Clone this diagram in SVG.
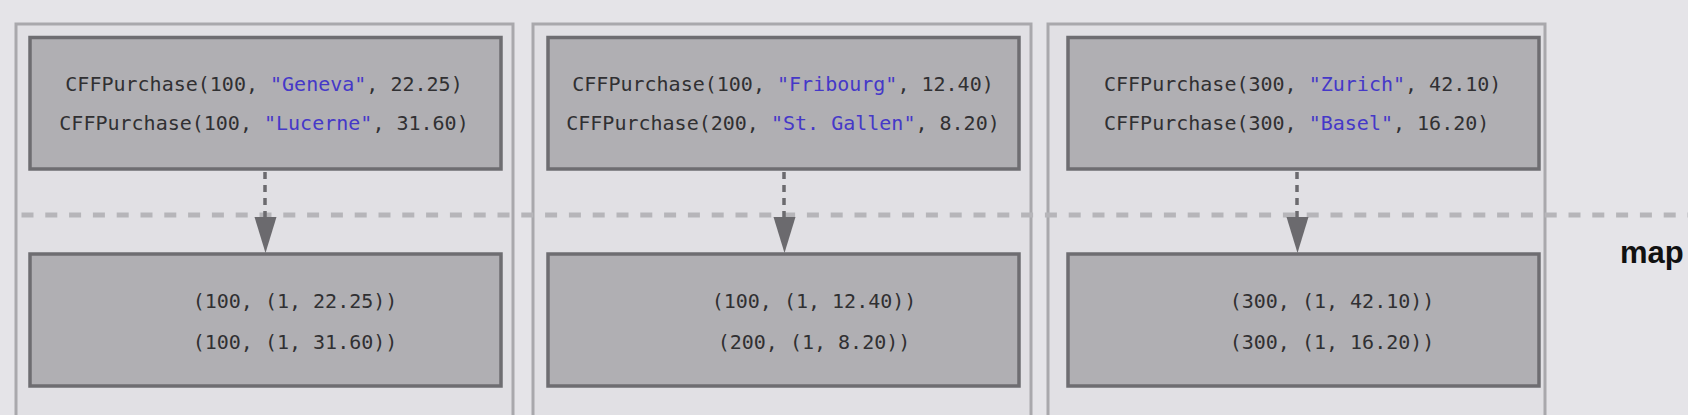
<svg xmlns="http://www.w3.org/2000/svg" width="1688" height="415" viewBox="0 0 1688 415">
  <defs>
    <style>
      .bg { fill: #e5e4e8; }
      .panel { fill: #e1e0e4; stroke: #a9a8ac; stroke-width: 3; }
      .box { fill: #b0afb3; stroke: #6e6d71; stroke-width: 3.5; }
      .code { font-family: "DejaVu Sans Mono", "Liberation Mono", monospace; font-size: 20px; fill: #303032; }
      .str { fill: #4538c8; }
      .mid { text-anchor: middle; }
      .sep { stroke: #b6b5b9; stroke-width: 5; stroke-dasharray: 12 11.8; fill: none; }
      .stem { stroke: #6b6a6e; stroke-width: 3.5; stroke-dasharray: 7 6; fill: none; }
      .head { fill: #6b6a6e; }
      .label { font-family: "Liberation Sans", Arial, sans-serif; font-weight: bold; font-size: 31px; fill: #111111; }
    </style>
  </defs>

  <rect class="bg" x="0" y="0" width="1688" height="415"/>

  <g id="panels">
    <rect id="panel-1" class="panel" x="16" y="24" width="497" height="420"/>
    <rect id="panel-2" class="panel" x="533" y="24" width="498" height="420"/>
    <rect id="panel-3" class="panel" x="1048" y="24" width="497" height="420"/>
  </g>

  <g id="separator">
    <line class="sep" x1="21.5" y1="215" x2="1688" y2="215"/>
  </g>

  <g id="input-1">
    <rect class="box" x="30" y="37.5" width="471" height="131.5"/>
    <text class="code mid" x="264" y="90.5">CFFPurchase(100, <tspan class="str">"Geneva"</tspan>, 22.25)</text>
    <text class="code mid" x="264" y="129.5">CFFPurchase(100, <tspan class="str">"Lucerne"</tspan>, 31.60)</text>
  </g>
  <g id="input-2">
    <rect class="box" x="548" y="37.5" width="471" height="131.5"/>
    <text class="code mid" x="783" y="90.5">CFFPurchase(100, <tspan class="str">"Fribourg"</tspan>, 12.40)</text>
    <text class="code mid" x="783" y="129.5">CFFPurchase(200, <tspan class="str">"St. Gallen"</tspan>, 8.20)</text>
  </g>
  <g id="input-3">
    <rect class="box" x="1068" y="37.5" width="471" height="131.5"/>
    <text class="code" x="1104" y="90.5">CFFPurchase(300, <tspan class="str">"Zurich"</tspan>, 42.10)</text>
    <text class="code" x="1104" y="129.5">CFFPurchase(300, <tspan class="str">"Basel"</tspan>, 16.20)</text>
  </g>

  <g id="output-1">
    <rect class="box" x="30" y="254" width="471" height="132"/>
    <text class="code mid" x="295" y="308">(100, (1, 22.25))</text>
    <text class="code mid" x="295" y="348.5">(100, (1, 31.60))</text>
  </g>
  <g id="output-2">
    <rect class="box" x="548" y="254" width="471" height="132"/>
    <text class="code mid" x="814" y="308">(100, (1, 12.40))</text>
    <text class="code mid" x="814" y="348.5">(200, (1, 8.20))</text>
  </g>
  <g id="output-3">
    <rect class="box" x="1068" y="254" width="471" height="132"/>
    <text class="code mid" x="1332" y="308">(300, (1, 42.10))</text>
    <text class="code mid" x="1332" y="348.5">(300, (1, 16.20))</text>
  </g>

  <g id="connectors">
    <line class="stem" x1="265" y1="172" x2="265" y2="218"/>
    <polygon class="head" points="254.5,217 276.5,217 265.5,253"/>
    <line class="stem" x1="784" y1="172" x2="784" y2="218"/>
    <polygon class="head" points="773.5,217 795.5,217 784.5,253"/>
    <line class="stem" x1="1297" y1="172" x2="1297" y2="218"/>
    <polygon class="head" points="1286.5,217 1308.5,217 1297.5,253"/>
  </g>

  <g id="stage-label">
    <text class="label" x="1620" y="263">map</text>
  </g>
</svg>
